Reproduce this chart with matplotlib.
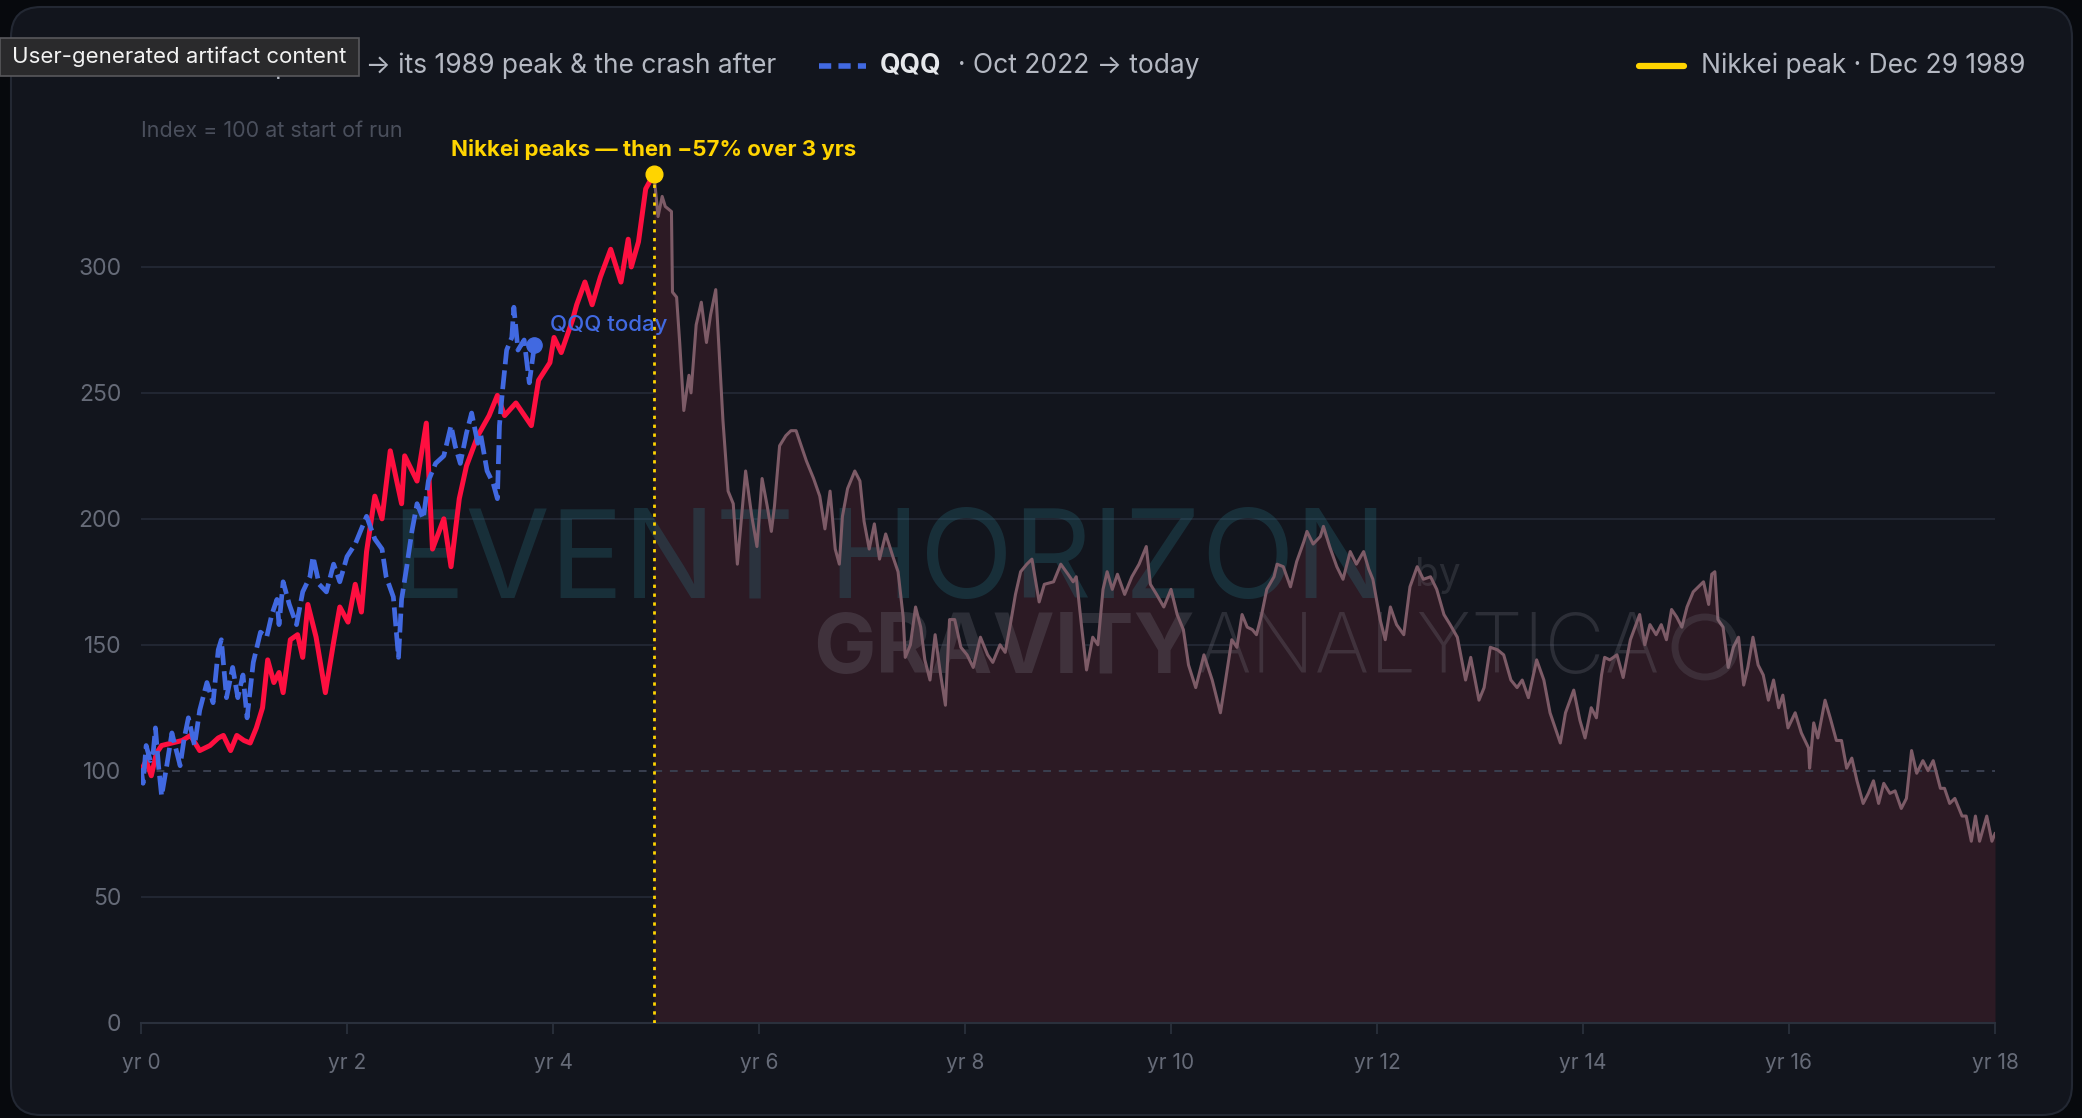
import matplotlib
matplotlib.use("Agg")
import matplotlib.pyplot as plt
from matplotlib.patches import FancyBboxPatch, Rectangle, Circle
from matplotlib.lines import Line2D
from matplotlib.transforms import IdentityTransform

# Nikkei 225, indexed to 100 at start of run (years since start)
nikkei_yr = [0, 0.05, 0.1, 0.15, 0.2, 0.3, 0.4, 0.48, 0.57, 0.67, 0.75, 0.8, 0.87, 0.93,
             1.0, 1.06, 1.12, 1.18, 1.23, 1.29, 1.34, 1.38, 1.45, 1.52, 1.57, 1.62, 1.7,
             1.79, 1.87, 1.93, 2.01, 2.08, 2.14, 2.19, 2.27, 2.34, 2.42, 2.53, 2.56, 2.68,
             2.77, 2.83, 2.94, 3.01, 3.09, 3.16, 3.27, 3.38, 3.46, 3.53, 3.64, 3.79, 3.86,
             3.97, 4.01, 4.08, 4.19, 4.23, 4.31, 4.38, 4.46, 4.56, 4.66, 4.73, 4.76, 4.83,
             4.9, 4.98,
             5.02, 5.06, 5.09, 5.15, 5.16, 5.2, 5.23, 5.27, 5.32, 5.34, 5.39, 5.44, 5.49,
             5.53, 5.58, 5.61, 5.65, 5.67, 5.7, 5.75, 5.79, 5.82, 5.87, 5.93, 5.98, 6.03,
             6.08, 6.12, 6.15, 6.2, 6.26, 6.31, 6.36, 6.41, 6.46, 6.53, 6.59, 6.64, 6.69,
             6.74, 6.78, 6.81, 6.86, 6.93, 6.98, 7.02, 7.07, 7.12, 7.17, 7.23, 7.3, 7.35,
             7.4, 7.42, 7.47, 7.52, 7.57, 7.61, 7.66, 7.71, 7.76, 7.81, 7.85, 7.9, 7.96,
             8.02, 8.08, 8.15, 8.22, 8.27, 8.34, 8.39, 8.44, 8.49, 8.54, 8.6, 8.65, 8.72,
             8.77, 8.86, 8.93, 9.0, 9.05, 9.08, 9.13, 9.18, 9.24, 9.29, 9.34, 9.38, 9.43,
             9.48, 9.55, 9.62, 9.69, 9.76,
             9.8, 9.86, 9.93, 10.0, 10.06, 10.12, 10.17, 10.24, 10.32, 10.4, 10.48, 10.53,
             10.59, 10.64, 10.69, 10.74, 10.79, 10.83, 10.88, 10.93, 11.0, 11.03, 11.09,
             11.16, 11.22, 11.29, 11.32, 11.38, 11.45, 11.48, 11.54, 11.61, 11.67, 11.74,
             11.8, 11.87, 11.92, 11.96, 12.03, 12.08, 12.13, 12.19, 12.26, 12.32, 12.39,
             12.45, 12.52, 12.58, 12.65, 12.71, 12.78, 12.86, 12.91, 12.99, 13.04, 13.1,
             13.17, 13.23, 13.3, 13.36, 13.41, 13.47, 13.55, 13.62, 13.68, 13.78, 13.83,
             13.91,
             13.97, 14.02, 14.08, 14.13, 14.18, 14.21, 14.26, 14.33, 14.39, 14.46, 14.55,
             14.6, 14.65, 14.71, 14.76, 14.81, 14.86, 14.91, 14.96, 15.01, 15.07, 15.12,
             15.17, 15.22, 15.25, 15.28, 15.31, 15.36, 15.41, 15.46, 15.51, 15.56, 15.6,
             15.65, 15.7, 15.75, 15.8, 15.85, 15.9, 15.94, 15.99, 16.06, 16.12, 16.19,
             16.2, 16.24, 16.28, 16.35, 16.4, 16.46, 16.51, 16.56, 16.61, 16.66, 16.72,
             16.77, 16.82, 16.87, 16.92, 16.98, 17.03, 17.09, 17.14, 17.19, 17.24, 17.3,
             17.35, 17.4, 17.47, 17.51, 17.56, 17.61, 17.68, 17.72, 17.77, 17.81, 17.85,
             17.92, 17.97, 18.0]
nikkei_val = [100, 104, 98, 107, 110, 111, 112, 114, 108, 110, 113, 114, 108, 114,
              112, 111, 117, 125, 144, 135, 139, 131, 152, 154, 145, 166, 153,
              131, 151, 165, 159, 174, 163, 187, 209, 200, 227, 206, 225, 215,
              238, 188, 200, 181, 208, 221, 233, 241, 249, 241, 246, 237, 255,
              262, 272, 266, 279, 285, 294, 285, 296, 307, 294, 311, 300, 310,
              331, 337,
              320, 328, 324, 322, 290, 288, 270, 243, 257, 250, 277, 286, 270,
              281, 291, 269, 239, 228, 211, 206, 182, 196, 219, 201, 189, 216,
              205, 195, 205, 229, 233, 235, 235, 229, 223, 216, 209, 196, 211,
              188, 182, 201, 212, 219, 215, 199, 188, 198, 184, 194, 185, 179,
              161, 145, 150, 165, 157, 144, 136, 154, 139, 126, 160, 160, 149,
              146, 141, 153, 146, 143, 150, 147, 158, 170, 179, 182, 184, 167,
              174, 175, 182, 178, 175, 177, 158, 140, 153, 150, 172, 179, 172,
              178, 170, 177, 182, 189,
              174, 170, 165, 172, 162, 156, 142, 133, 146, 136, 123, 136,
              152, 149, 162, 157, 156, 154, 162, 172, 177, 182, 181,
              173, 183, 191, 195, 190, 193, 197, 189, 181, 176, 187,
              182, 187, 180, 176, 160, 152, 165, 158, 154, 173, 181,
              176, 177, 172, 162, 158, 153, 136, 145, 128, 133, 149,
              148, 146, 136, 133, 136, 129, 144, 136, 123, 111, 123,
              132,
              120, 113, 125, 121, 138, 145, 144, 146, 137, 152, 162,
              150, 158, 154, 158, 152, 164, 161, 157, 165, 171, 173,
              175, 166, 178, 179, 160, 157, 141, 149, 153, 134, 141,
              153, 142, 138, 128, 136, 125, 130, 117, 123, 115, 109,
              101, 119, 113, 128, 121, 112, 112, 101, 105, 96, 87,
              91, 96, 87, 95, 91, 92, 85, 89, 108, 99, 104,
              100, 104, 93, 93, 87, 89, 82, 82, 72, 82, 72,
              82, 72, 75]

# QQQ, indexed to 100 at Oct 2022
qqq_yr = [0, 0.02, 0.05, 0.09, 0.12, 0.14, 0.17, 0.2, 0.25, 0.3, 0.38, 0.42, 0.46, 0.52,
          0.57, 0.64, 0.7, 0.75, 0.78, 0.83, 0.89, 0.94, 0.99, 1.03, 1.09, 1.16, 1.22,
          1.27, 1.32, 1.34, 1.38, 1.44, 1.51, 1.57, 1.64, 1.67, 1.73, 1.8, 1.87, 1.93,
          2.0, 2.08, 2.16, 2.19, 2.27, 2.34, 2.38, 2.45, 2.5, 2.53, 2.58, 2.63, 2.68,
          2.74, 2.79, 2.86, 2.94, 3.01, 3.05, 3.1, 3.16, 3.21, 3.27, 3.3, 3.36, 3.42,
          3.46, 3.48, 3.51, 3.55, 3.6, 3.62, 3.66, 3.72, 3.77, 3.82]
qqq_val = [101, 95, 110, 104, 108, 117, 102, 90, 102, 115, 102, 113, 121, 110,
           124, 135, 127, 148, 152, 129, 141, 129, 138, 121, 143, 155, 153,
           162, 168, 158, 175, 166, 158, 171, 177, 185, 174, 171, 182, 175,
           185, 190, 198, 201, 192, 188, 177, 169, 145, 168, 181, 195, 206,
           200, 215, 222, 225, 237, 229, 222, 234, 242, 230, 233, 219, 214,
           208, 237, 251, 267, 272, 284, 267, 271, 254, 269]

x_ticks = [0, 2, 4, 6, 8, 10, 12, 14, 16, 18]
x_labels = ["yr %d" % v for v in x_ticks]
y_ticks = [0, 50, 100, 150, 200, 250, 300]

W, H = 2082, 1118
plt.rcParams['font.family'] = ['Inter', 'DejaVu Sans']

fig = plt.figure(figsize=(W / 100, H / 100), dpi=100)
fig.patch.set_facecolor('#07090d')

panel = FancyBboxPatch((11, 3), 2061, 1108, boxstyle="round,pad=0,rounding_size=30",
                       transform=IdentityTransform(), fc='#12151d', ec='#232833',
                       lw=1.5, zorder=-5)
fig.add_artist(panel)

ax = fig.add_axes([141 / W, 95.4 / H, 1854 / W, 894.2 / H])
ax.set_facecolor('none')
ax.set_xlim(0, 18)
ax.set_ylim(0, 355)

for s in ['top', 'right', 'left']:
    ax.spines[s].set_visible(False)
ax.spines['bottom'].set_color('#2a303c')
ax.spines['bottom'].set_linewidth(1.5)

ax.set_xticks(x_ticks)
ax.set_xticklabels(x_labels)
ax.set_yticks(y_ticks)
ax.tick_params(axis='x', length=8, width=1.3, color='#2a303c', labelcolor='#666b78',
               labelsize=15, pad=14)
ax.tick_params(axis='y', length=0, labelcolor='#666b78', labelsize=16.5, pad=14)

for y in [50, 150, 200, 250, 300]:
    ax.axhline(y, color='#222733', lw=1.4, zorder=0.5)
ax.axhline(100, color='#3a4050', lw=1.4, ls=(0, (4, 4)), zorder=2.5)

# watermark
ax.text(890 / W, 1 - 598 / H, "EVENT HORIZON", transform=fig.transFigure,
        ha='center', va='baseline', fontsize=88, color='#2a7585', alpha=0.28, zorder=1.5)
ax.text(1438 / W, 1 - 575 / H, "by", transform=fig.transFigure,
        ha='center', va='center', fontsize=28, color='#8a8a95', alpha=0.2, zorder=1.5)
ax.text(1195 / W, 1 - 673 / H, "GRAVITY", transform=fig.transFigure,
        ha='right', va='baseline', fontsize=60, fontweight='bold', color='#8a8a95',
        alpha=0.22, zorder=1.5)
ax.text(1197 / W, 1 - 673 / H, "ANALYTICA", transform=fig.transFigure,
        ha='left', va='baseline', fontsize=60, fontweight='light', color='#8a8a95',
        alpha=0.22, zorder=1.5)
fig.add_artist(Circle((1705, H - 647), 30, transform=IdentityTransform(), fill=False,
                      ec='#8a8a95', lw=5, alpha=0.18, zorder=0.2))

pk = nikkei_val.index(max(nikkei_val))
pk_x, pk_y = nikkei_yr[pk], nikkei_val[pk]

ax.fill_between(nikkei_yr[pk:], nikkei_val[pk:], 0, color='#2c1a24', lw=0, zorder=1)
ax.plot(nikkei_yr[pk:], nikkei_val[pk:], color='#7d5b67', lw=2.2, zorder=3)
ax.plot(nikkei_yr[:pk + 1], nikkei_val[:pk + 1], color='#ff0f40', lw=3.6, zorder=3.2)
ax.plot(qqq_yr, qqq_val, color='#4169e1', lw=3.4, ls=(0, (4, 1.3)), zorder=3.3)
ax.plot([qqq_yr[-1]], [qqq_val[-1]], 'o', ms=11, color='#4169e1', zorder=3.4)
ax.text(qqq_yr[-1] + 0.15, 277, "QQQ today", color='#4169e1', fontsize=16,
        fontweight='medium', va='center', ha='left', zorder=4)

ax.plot([pk_x, pk_x], [0, pk_y], color='#ffd400', lw=2, ls=(0, (1.2, 2)), zorder=3.5)
ax.plot([pk_x], [pk_y], 'o', ms=12, color='#ffd400', zorder=5)
ax.text(pk_x, 346.5, "Nikkei peaks \u2014 then \u221257% over 3 yrs", color='#ffd400',
        fontsize=16, fontweight='bold', ha='center', va='center', clip_on=False, zorder=5)

fig.text(141 / W, 1 - 131 / H, "Index = 100 at start of run", color='#4a4f5c',
         fontsize=15.5, va='center', ha='left')

# legend row
r = fig.canvas.get_renderer()
ly = 1 - 66 / H


def legend_line(x0, x1, **kw):
    fig.add_artist(Line2D([x0 / W, x1 / W], [ly, ly], transform=fig.transFigure, **kw))


t = fig.text(776 / W, ly, "\u00b7 Sep 1985 \u2192 its 1989 peak & the crash after",
             color='#b4b8c2', fontsize=19, va='center', ha='right')
bb = t.get_window_extent(r)
t = fig.text((bb.x0 - 10) / W, ly, "Nikkei 225", color='#e6e8ec', fontsize=19,
             fontweight='bold', va='center', ha='right')
bb = t.get_window_extent(r)
legend_line(bb.x0 - 62, bb.x0 - 14, color='#ff0f40', lw=4, solid_capstyle='round')

legend_line(819, 866, color='#4169e1', lw=4, ls=(0, (2.2, 1.3)))
t = fig.text(880 / W, ly, "QQQ", color='#e6e8ec', fontsize=19, fontweight='bold',
             va='center', ha='left')
bb = t.get_window_extent(r)
fig.text((bb.x1 + 16) / W, ly, "\u00b7 Oct 2022 \u2192 today", color='#b4b8c2',
         fontsize=19, va='center', ha='left')

legend_line(1639, 1684, color='#ffd400', lw=4.5, solid_capstyle='round')
fig.text(1701 / W, ly, "Nikkei peak \u00b7 Dec 29 1989", color='#b4b8c2', fontsize=19,
         va='center', ha='left')

# overlay tooltip
fig.add_artist(Rectangle((0, H - 76), 359, 38, transform=IdentityTransform(),
                         fc='#2a2a2c', ec='#58585c', lw=1.2, zorder=20))
fig.text(12 / W, 1 - 57 / H, "User-generated artifact content", color='#f2f2f2',
         fontsize=16, va='center', ha='left', zorder=21)

fig.savefig("out.png", dpi=100, facecolor=fig.get_facecolor())
